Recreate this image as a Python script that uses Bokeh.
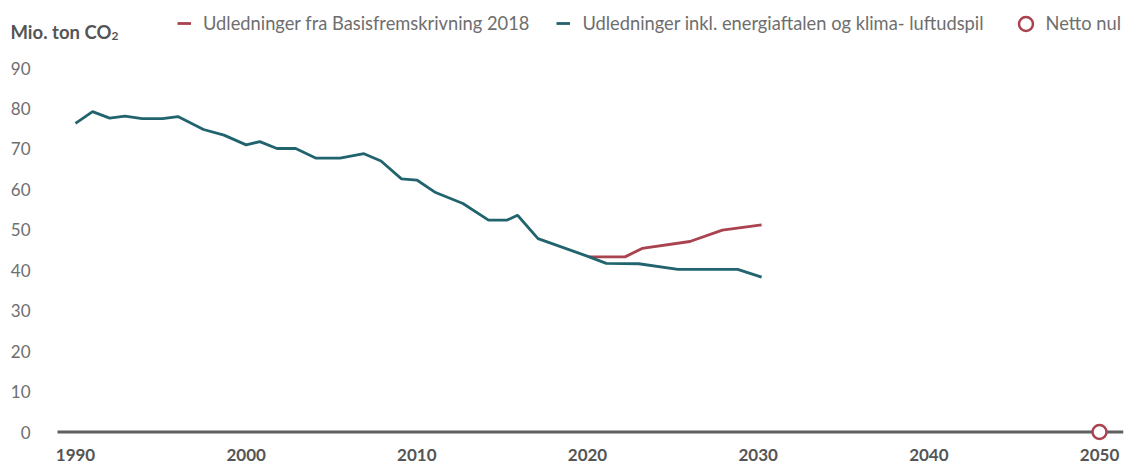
from bokeh.plotting import figure
from bokeh.models import Range1d, Label, Legend, LegendItem
from bokeh.embed import file_html
from bokeh.resources import INLINE

# ---- data ----
teal_years = [1990, 1991, 1992, 1992.9, 1993.9, 1995.1, 1996, 1997.5, 1998.7, 2000, 2000.8,
              2001.8, 2002.9, 2004.1, 2005.5, 2006.9, 2007.9, 2009.1, 2010, 2011.1, 2012.7,
              2014.2, 2015.3, 2015.9, 2017.1, 2020.1, 2021.1, 2023.0, 2025.3, 2028.8, 2030.2]
teal_vals = [76.3, 79.2, 77.6, 78.1, 77.5, 77.5, 78.0, 74.8, 73.4, 71.0, 71.8,
             70.1, 70.1, 67.7, 67.7, 68.8, 67.0, 62.6, 62.3, 59.2, 56.5,
             52.4, 52.4, 53.6, 47.8, 43.3, 41.7, 41.6, 40.2, 40.2, 38.3]
red_years = [2020.1, 2022.2, 2023.2, 2026.0, 2027.9, 2030.2]
red_vals = [43.3, 43.3, 45.4, 47.1, 49.9, 51.2]
net_years = [2050]
net_vals = [0]
x_ticks = [1990, 2000, 2010, 2020, 2030, 2040, 2050]
y_ticks = [0, 10, 20, 30, 40, 50, 60, 70, 80, 90]
label_red = "Udledninger fra Basisfremskrivning 2018"
label_teal = "Udledninger inkl. energiaftalen og klima- luftudspil"
label_net = "Netto nul"
title_main = "Mio. ton CO"
title_sub = "2"

RED = "#a9434f"
TEAL = "#22646e"
GREY_TXT = "#6e6e6e"
DARK_TXT = "#555555"
BASE = "#5f5f5f"
FONT = "Lato"

W, H = 1125, 465
FRAME_W = 1123          # frame spans canvas x 0..1123
PX_PER_YEAR = 17.067
X0_PX = 75              # canvas x of 1990
PX_PER_UNIT = 4.0444
Y0_PX = 431.5           # canvas y of value 0

def xd(px):
    return 1990 + (px - X0_PX) / PX_PER_YEAR

def yd(py):
    return (Y0_PX - py) / PX_PER_UNIT

p = figure(width=W, height=H, output_backend="svg", toolbar_location=None,
           x_range=Range1d(xd(0), xd(FRAME_W)), y_range=Range1d(yd(H), yd(0)),
           min_border_left=0, min_border_right=W - FRAME_W, min_border_top=0,
           min_border_bottom=0, x_axis_type=None, y_axis_type=None)
p.outline_line_color = None
p.xgrid.visible = False
p.ygrid.visible = False

# y tick labels, right-aligned at canvas x=30
p.text(x=[xd(30)] * len(y_ticks), y=y_ticks, text=[str(v) for v in y_ticks],
       text_align="right", text_baseline="middle", text_font_size="17px",
       text_color=GREY_TXT, text_font={"value": FONT})

# x tick labels, centred under their years
p.text(x=x_ticks, y=[yd(454)] * len(x_ticks), text=[str(v) for v in x_ticks],
       text_align="center", text_baseline="middle", text_font_size="17px",
       text_font_style="bold", text_color=DARK_TXT, text_font={"value": FONT})

# zero base line from x=57 to frame end
p.segment(x0=[xd(57)], y0=[0], x1=[xd(FRAME_W)], y1=[0], line_color=BASE, line_width=3)

r_red = p.line(red_years, red_vals, line_color=RED, line_width=2.8)
r_teal = p.line(teal_years, teal_vals, line_color=TEAL, line_width=2.8)
r_net = p.scatter(net_years, net_vals, marker="circle", size=14, fill_color="white",
                  line_color=RED, line_width=2.5)

legend_lines = Legend(items=[LegendItem(label=label_red, renderers=[r_red]),
                             LegendItem(label=label_teal, renderers=[r_teal])],
                      orientation="horizontal", location=(177, H - 34),
                      glyph_width=14, glyph_height=14, label_standoff=12, spacing=27,
                      padding=0, margin=0, border_line_color=None, background_fill_alpha=0,
                      label_text_font=FONT, label_text_font_size="18.3px",
                      label_text_color=GREY_TXT)
p.add_layout(legend_lines, "center")

legend_net = Legend(items=[LegendItem(label=label_net, renderers=[r_net])],
                    orientation="horizontal", location=(1007.5, H - 40.5),
                    glyph_width=35, glyph_height=35, label_standoff=3, spacing=0,
                    padding=0, margin=0, border_line_color=None, background_fill_alpha=0,
                    label_text_font=FONT, label_text_font_size="18.3px",
                    label_text_color=GREY_TXT)
p.add_layout(legend_net, "center")

# title "Mio. ton CO2"
p.add_layout(Label(x=xd(10), y=yd(31), text=title_main,
                   text_font=FONT, text_font_size="18.5px", text_font_style="bold",
                   text_color=DARK_TXT, text_baseline="alphabetic"))
p.add_layout(Label(x=xd(111), y=yd(35), text=title_sub,
                   text_font=FONT, text_font_size="12px", text_font_style="bold",
                   text_color=DARK_TXT, text_baseline="alphabetic"))

open("out.html", "w").write(file_html(p, INLINE))
